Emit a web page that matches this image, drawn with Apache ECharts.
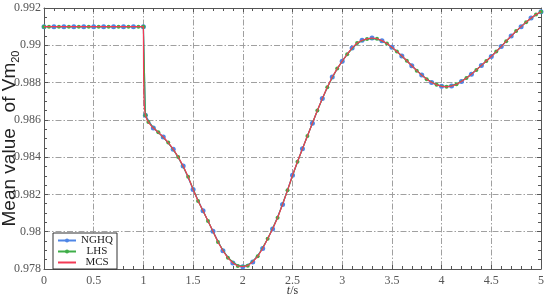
<!DOCTYPE html>
<html>
<head>
<meta charset="utf-8">
<script src="https://cdn.jsdelivr.net/npm/echarts@6/dist/echarts.min.js"></script>
<style>
  html, body { margin: 0; padding: 0; background: #fff; }
  #main { width: 550px; height: 304px; }
</style>
</head>
<body>
<div id="main"></div>
<script>
// time points (s) and mean value of Vm20 for each method
const tNGHQ = [0, 0.1, 0.2, 0.3, 0.4, 0.5, 0.6, 0.7, 0.8, 0.9, 1.0, 1.02,
  1.1, 1.2, 1.3, 1.4, 1.5, 1.6, 1.7, 1.8, 1.9, 2.0, 2.1, 2.2, 2.3, 2.4, 2.5,
  2.6, 2.7, 2.8, 2.9, 3.0, 3.1, 3.2, 3.3, 3.4, 3.5, 3.6, 3.7, 3.8, 3.9, 4.0,
  4.1, 4.2, 4.3, 4.4, 4.5, 4.6, 4.7, 4.8, 4.9, 5.0];
const vNGHQ = [0.991, 0.991, 0.991, 0.991, 0.991, 0.991, 0.991, 0.991, 0.991, 0.991, 0.991, 0.98625,
  0.98556, 0.98508, 0.98443, 0.98352, 0.98227, 0.98112, 0.98002, 0.97898, 0.97832, 0.97812, 0.97838, 0.97910, 0.98015, 0.98146, 0.98303,
  0.98445, 0.98582, 0.98715, 0.98830, 0.98915, 0.98986, 0.99027, 0.99039, 0.99025, 0.98990, 0.98943, 0.98890, 0.98840, 0.98800, 0.98780,
  0.98781, 0.98806, 0.98845, 0.98892, 0.98940, 0.98993, 0.99050, 0.99100, 0.99146, 0.99180];

const tLHS = [0, 0.05, 0.15, 0.25, 0.35, 0.45, 0.55, 0.65, 0.75, 0.85, 0.95, 1.0, 1.02,
  1.05, 1.15, 1.25, 1.35, 1.45, 1.55, 1.65, 1.75, 1.85, 1.95, 2.05, 2.15, 2.25, 2.35, 2.45,
  2.55, 2.65, 2.75, 2.85, 2.95, 3.05, 3.15, 3.25, 3.35, 3.45, 3.55, 3.65, 3.75, 3.85, 3.95,
  4.05, 4.15, 4.25, 4.35, 4.45, 4.55, 4.65, 4.75, 4.85, 4.95, 5.0];
const vLHS = [0.991, 0.991, 0.991, 0.991, 0.991, 0.991, 0.991, 0.991, 0.991, 0.991, 0.991, 0.991, 0.98625,
  0.98588, 0.98533, 0.98478, 0.98401, 0.98295, 0.98165, 0.98058, 0.97945, 0.97860, 0.97816, 0.97818, 0.97868, 0.97962, 0.98075, 0.98222,
  0.98375, 0.98513, 0.98650, 0.98775, 0.98875, 0.98952, 0.99012, 0.99034, 0.99035, 0.99010, 0.98967, 0.98917, 0.98864, 0.98818, 0.98788,
  0.98777, 0.98791, 0.98824, 0.98868, 0.98916, 0.98966, 0.99022, 0.99076, 0.99124, 0.99165, 0.99180];

const tMCS = [0, 1.0, 1.002, 1.005, 1.01, 1.02, 1.035, 1.05, 1.075, 1.1, 1.15,
  1.2, 1.25, 1.3, 1.35, 1.4, 1.45, 1.5, 1.55, 1.6, 1.65, 1.7, 1.75, 1.8, 1.85, 1.9, 1.95,
  2.0, 2.05, 2.1, 2.15, 2.2, 2.25, 2.3, 2.35, 2.4, 2.45, 2.5, 2.55, 2.6, 2.65, 2.7, 2.75,
  2.8, 2.85, 2.9, 2.95, 3.0, 3.05, 3.1, 3.15, 3.2, 3.25, 3.3, 3.35, 3.4, 3.45, 3.5, 3.55,
  3.6, 3.65, 3.7, 3.75, 3.8, 3.85, 3.9, 3.95, 4.0, 4.05, 4.1, 4.15, 4.2, 4.25, 4.3, 4.35,
  4.4, 4.45, 4.5, 4.55, 4.6, 4.65, 4.7, 4.75, 4.8, 4.85, 4.9, 4.95, 5.0];
const vMCS = [0.991, 0.991, 0.9885, 0.9873, 0.98665, 0.98625, 0.98602, 0.98588, 0.98570, 0.98556, 0.98533,
  0.98508, 0.98478, 0.98443, 0.98401, 0.98352, 0.98295, 0.98227, 0.98165, 0.98112, 0.98058, 0.98002, 0.97945, 0.97898, 0.97860, 0.97832, 0.97816,
  0.97812, 0.97818, 0.97838, 0.97868, 0.97910, 0.97962, 0.98015, 0.98075, 0.98146, 0.98222, 0.98303, 0.98375, 0.98445, 0.98513, 0.98582, 0.98650,
  0.98715, 0.98775, 0.98830, 0.98875, 0.98915, 0.98952, 0.98986, 0.99012, 0.99027, 0.99034, 0.99039, 0.99035, 0.99025, 0.99010, 0.98990, 0.98967,
  0.98943, 0.98917, 0.98890, 0.98864, 0.98840, 0.98818, 0.98800, 0.98788, 0.98780, 0.98777, 0.98781, 0.98791, 0.98806, 0.98824, 0.98845, 0.98868,
  0.98892, 0.98916, 0.98940, 0.98966, 0.98993, 0.99022, 0.99050, 0.99076, 0.99100, 0.99124, 0.99146, 0.99165, 0.99180];

const seriesNames = ["NGHQ", "LHS", "MCS"];
const seriesColors = ["#4f86e6", "#3fae49", "#f23a55"];

const serif = "'Liberation Serif', 'Times New Roman', serif";
const sans = "'Liberation Sans', Arial, sans-serif";
const frame = "#555";
const gridLine = {
  show: true,
  lineStyle: { color: "#a0a0a0", width: 1, type: [6, 2, 1.5, 2] },
};

const pairs = (ts, vs) => ts.map((t, i) => [t, vs[i]]);

const chart = echarts.init(document.getElementById("main"));

const baseX = {
  type: "value",
  min: 0,
  max: 5,
  interval: 0.5,
  axisLine: { show: true, onZero: false, lineStyle: { color: frame, width: 1 } },
  axisTick: { show: true, inside: true, length: 4, lineStyle: { color: frame } },
  minorTick: { show: true, splitNumber: 5, length: 3, lineStyle: { color: frame } },
};
const baseY = {
  type: "value",
  min: 0.978,
  max: 0.992,
  interval: 0.002,
  axisLine: { show: true, onZero: false, lineStyle: { color: frame, width: 1 } },
  axisTick: { show: true, inside: true, length: 4, lineStyle: { color: frame } },
  minorTick: { show: true, splitNumber: 4, length: 3, lineStyle: { color: frame } },
};

const option = {
  backgroundColor: "#fff",
  animation: false,
  grid: { left: 44, right: 9, top: 8, bottom: 35, containLabel: false, outerBoundsMode: "none" },
  legend: {
    orient: "vertical",
    left: 53,
    top: 233,
    padding: [2, 4, 1, 4],
    itemGap: 0,
    itemWidth: 18,
    itemHeight: 5,
    backgroundColor: "#fff",
    borderColor: "#333",
    borderWidth: 1,
    borderRadius: 0,
    data: [
      { name: seriesNames[0] },
      { name: seriesNames[1] },
      { name: seriesNames[2], itemStyle: { opacity: 0 } },
    ],
    formatter: (name) => "{a|" + name + "}",
    textStyle: {
      fontFamily: serif,
      fontSize: 11,
      color: "#222",
      rich: { a: { width: 32, align: "center", lineHeight: 9.5, fontFamily: serif, fontSize: 11, color: "#222" } },
    },
  },
  xAxis: [
    Object.assign({}, baseX, {
      position: "bottom",
      name: "{i|t}/s",
      nameLocation: "middle",
      nameGap: 16,
      nameMoveOverlap: false,
      nameTextStyle: {
        fontFamily: serif,
        fontSize: 12,
        color: "#333",
        rich: { i: { fontStyle: "italic", fontFamily: serif, fontSize: 12, color: "#333" } },
      },
      axisLabel: { fontFamily: serif, fontSize: 12, color: "#555", margin: 6 },
      splitLine: gridLine,
    }),
    Object.assign({}, baseX, {
      position: "top",
      axisLabel: { show: false },
      splitLine: { show: false },
    }),
  ],
  yAxis: [
    Object.assign({}, baseY, {
      position: "left",
      name: "{m|Mean value   of Vm}{s|20}",
      nameLocation: "middle",
      nameGap: 23,
      nameMoveOverlap: false,
      nameTextStyle: {
        fontFamily: sans,
        fontSize: 19,
        color: "#222",
        rich: {
          m: { fontFamily: sans, fontSize: 19, lineHeight: 22, color: "#222" },
          s: { fontFamily: sans, fontSize: 11, lineHeight: 11, color: "#222", verticalAlign: "bottom" },
        },
      },
      axisLabel: { fontFamily: serif, fontSize: 12, color: "#555", margin: 3 },
      splitLine: gridLine,
    }),
    Object.assign({}, baseY, {
      position: "right",
      axisLabel: { show: false },
      splitLine: { show: false },
    }),
  ],
  series: [
    {
      name: seriesNames[0],
      type: "line",
      data: pairs(tNGHQ, vNGHQ),
      symbol: "circle",
      symbolSize: 5,
      showAllSymbol: true,
      color: seriesColors[0],
      lineStyle: { color: seriesColors[0], width: 1.2 },
      itemStyle: { color: seriesColors[0] },
      z: 2,
    },
    {
      name: seriesNames[1],
      type: "line",
      data: pairs(tLHS, vLHS),
      symbol: "circle",
      symbolSize: 4,
      showAllSymbol: true,
      color: seriesColors[1],
      lineStyle: { color: seriesColors[1], width: 1.2 },
      itemStyle: { color: seriesColors[1] },
      z: 3,
    },
    {
      name: seriesNames[2],
      type: "line",
      data: pairs(tMCS, vMCS),
      symbol: "none",
      color: seriesColors[2],
      lineStyle: { color: seriesColors[2], width: 1.2 },
      z: 4,
    },
  ],
};

chart.setOption(option);
</script>
</body>
</html>
